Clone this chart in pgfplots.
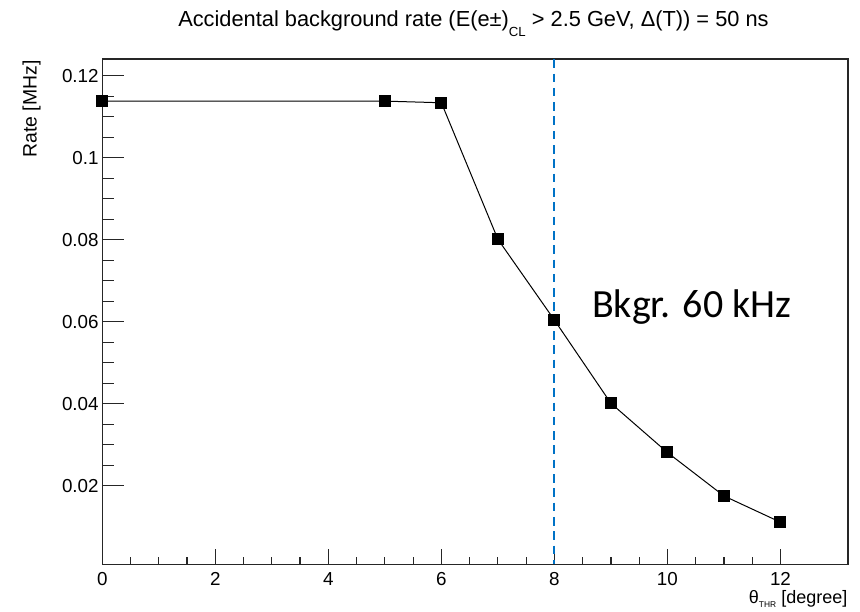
\documentclass[border=0pt]{standalone}
\usepackage{pgfplots}
\pgfplotsset{compat=1.18}
\usepackage{fontspec}
\setmainfont{Liberation Sans}
\newfontfamily\calibri{Carlito}
\definecolor{dashblue}{RGB}{0,114,198}
\begin{document}
\begin{tikzpicture}
\begin{axis}[
  name=ax,
  scale only axis,
  width=372.7pt, height=252.5pt,
  xmin=0, xmax=13.19, ymin=0.00083, ymax=0.124,
  axis line style={black!85, line width=0.8pt},
  tick align=inside,
  xtick pos=bottom, ytick pos=left,
  xtick={0,2,4,6,8,10,12},
  minor x tick num=3,
  ytick={0.02,0.04,0.06,0.08,0.1,0.12},
  yticklabels={0.02,0.04,0.06,0.08,0.1,0.12},
  minor y tick num=3,
  scaled y ticks=false,
  xtick style={black!85, line width=0.6pt, /pgfplots/major tick length=7.5pt, /pgfplots/minor tick length=3.85pt},
  ytick style={black!85, line width=0.6pt, /pgfplots/major tick length=11pt, /pgfplots/minor tick length=5.8pt},
  /pgf/number format/assume math mode=true,
  ticklabel style={font=\fontsize{9.4}{11}\selectfont},
  xticklabel style={inner sep=0pt, yshift=-3.7pt},
  yticklabel style={inner sep=0pt, xshift=-1.65pt},
  clip=false,
]
\addplot[dashblue, line width=1pt, dash pattern=on 4.3pt off 2.85pt] coordinates {(8,0.124) (8,0.00083)};
\addplot[black, line width=0.5pt, mark=square*, mark size=2.75pt, mark options={solid, fill=black}] coordinates {
(0,0.1138) (5,0.1138) (6,0.1134) (7,0.0801) (8,0.0604) (9,0.0401) (10,0.0281) (11,0.0175) (12,0.0111)
};
\end{axis}
\node[anchor=base east, inner sep=0pt, font=\fontsize{10.9}{12}\selectfont] at ([shift={(333.35pt,268.8pt)}]ax.south west)
  {Accidental background rate (E(e±)\raisebox{-5pt}{\fontsize{6.6}{7}\selectfont CL} > 2.5 GeV, Δ(T)) = 50 ns};
\node[anchor=base west, inner sep=0pt, font=\calibri\fontsize{20}{24}\selectfont] at ([shift={(244.7pt,123.3pt)}]ax.south west) {Bkgr. 60 kHz};
\node[anchor=base east, inner sep=0pt, rotate=90, font=\fontsize{9.7}{11}\selectfont] at ([shift={(-32.8pt,252.15pt)}]ax.south west) {Rate [MHz]};
\node[anchor=base east, inner sep=0pt, font=\fontsize{9}{11}\selectfont] at ([shift={(0pt,-19.5pt)}]ax.south east)
  {θ\raisebox{-2pt}{\fontsize{4.2}{5}\selectfont THR} [degree]};
\pgfresetboundingbox
\path ([shift={(-51.15pt,-23.35pt)}]ax.south west) rectangle ([shift={(6.15pt,29.65pt)}]ax.north east);
\end{tikzpicture}
\end{document}
